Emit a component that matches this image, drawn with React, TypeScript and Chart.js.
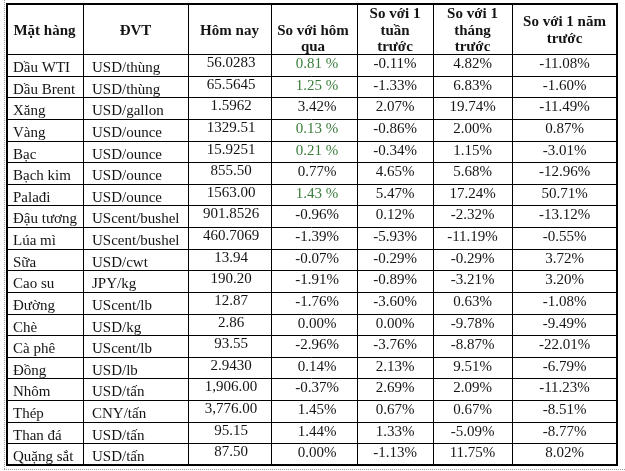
import React, { useEffect, useRef } from "react";
import { Chart, registerables } from "chart.js";
Chart.register(...registerables);

// ---- data ----
const headers: string[][] = [
  ["Mặt hàng"],
  ["ĐVT"],
  ["Hôm nay"],
  ["So với hôm", "qua"],
  ["So với 1", "tuần", "trước"],
  ["So với 1", "tháng", "trước"],
  ["So với 1 năm", "trước"],
];

const commodities = [
  "Dầu WTI", "Dầu Brent", "Xăng", "Vàng", "Bạc", "Bạch kim", "Palađi",
  "Đậu tương", "Lúa mì", "Sữa", "Cao su", "Đường", "Chè", "Cà phê",
  "Đồng", "Nhôm", "Thép", "Than đá", "Quặng sắt",
];

const units = [
  "USD/thùng", "USD/thùng", "USD/gallon", "USD/ounce", "USD/ounce", "USD/ounce",
  "USD/ounce", "UScent/bushel", "UScent/bushel", "USD/cwt", "JPY/kg", "UScent/lb",
  "USD/kg", "UScent/lb", "USD/lb", "USD/tấn", "CNY/tấn", "USD/tấn", "USD/tấn",
];

const today = [
  "56.0283", "65.5645", "1.5962", "1329.51", "15.9251", "855.50", "1563.00",
  "901.8526", "460.7069", "13.94", "190.20", "12.87", "2.86", "93.55",
  "2.9430", "1,906.00", "3,776.00", "95.15", "87.50",
];

const vsYesterday = [
  "0.81 %", "1.25 %", "3.42%", "0.13 %", "0.21 %", "0.77%", "1.43 %",
  "-0.96%", "-1.39%", "-0.07%", "-1.91%", "-1.76%", "0.00%", "-2.96%",
  "0.14%", "-0.37%", "1.45%", "1.44%", "0.00%",
];

const yesterdayGreen = [0, 1, 3, 4, 6];

const vsWeek = [
  "-0.11%", "-1.33%", "2.07%", "-0.86%", "-0.34%", "4.65%", "5.47%",
  "0.12%", "-5.93%", "-0.29%", "-0.89%", "-3.60%", "0.00%", "-3.76%",
  "2.13%", "2.69%", "0.67%", "1.33%", "-1.13%",
];

const vsMonth = [
  "4.82%", "6.83%", "19.74%", "2.00%", "1.15%", "5.68%", "17.24%",
  "-2.32%", "-11.19%", "-0.29%", "-3.21%", "0.63%", "-9.78%", "-8.87%",
  "9.51%", "2.09%", "0.67%", "-5.09%", "11.75%",
];

const vsYear = [
  "-11.08%", "-1.60%", "-11.49%", "0.87%", "-3.01%", "-12.96%", "50.71%",
  "-13.12%", "-0.55%", "3.72%", "3.20%", "-1.08%", "-9.49%", "-22.01%",
  "-6.79%", "-11.23%", "-8.51%", "-8.77%", "8.02%",
];

// ---- layout (not data) ----
const colWidths = [77, 105, 83, 86, 76, 79, 105];
const headerUnits = 51 / 21.63;
const FONT = "'Liberation Serif', 'Times New Roman', serif";
const TEXT = "#141414";
const GREEN = "#3a7d3a";

export default function App() {
  const ref = useRef<HTMLCanvasElement | null>(null);

  useEffect(() => {
    const canvas = ref.current;
    if (!canvas) return;
    const columns = [commodities, units, today, vsYesterday, vsWeek, vsMonth, vsYear];
    const edges: number[] = [0];
    colWidths.forEach((w) => edges.push(edges[edges.length - 1] + w));
    const total = edges[edges.length - 1];
    const nRows = commodities.length;

    const tablePlugin = {
      id: "tablePlugin",
      beforeDraw(chart: any) {
        const ctx = chart.ctx;
        ctx.save();
        ctx.fillStyle = "#ffffff";
        ctx.fillRect(0, 0, chart.width, chart.height);
        ctx.restore();
      },
      afterDraw(chart: any) {
        const ctx = chart.ctx as CanvasRenderingContext2D;
        const xs = chart.scales.x;
        const ys = chart.scales.y;
        const X = (v: number) => xs.getPixelForValue(v);
        const Y = (v: number) => ys.getPixelForValue(v);
        ctx.save();

        // dotted page guides
        ctx.strokeStyle = "#9a9a9a";
        ctx.lineWidth = 1;
        ctx.setLineDash([1, 1]);
        ctx.beginPath();
        ctx.moveTo(4.5, 0);
        ctx.lineTo(4.5, 469);
        ctx.moveTo(4, 469.5);
        ctx.lineTo(chart.width, 469.5);
        ctx.stroke();
        ctx.setLineDash([]);

        // header text
        const top = Y(-headerUnits);
        const hb = Y(0);
        const hc = (top + hb) / 2;
        ctx.fillStyle = TEXT;
        ctx.font = `bold 15px ${FONT}`;
        ctx.textBaseline = "alphabetic";
        ctx.textAlign = "center";
        headers.forEach((lines, c) => {
          const cx = (X(edges[c]) + X(edges[c + 1])) / 2;
          const n = lines.length;
          lines.forEach((ln, i) => {
            let by: number;
            if (c === 3) by = hb - 3 - (n - 1 - i) * 16;
            else by = hc + 6 + (i - (n - 1) / 2) * 16.2;
            ctx.fillText(ln, cx - (c === 3 ? 1 : 0), by);
          });
        });

        // body text
        ctx.font = `15px ${FONT}`;
        for (let r = 0; r < nRows; r++) {
          const t = Y(r);
          columns.forEach((col, c) => {
            const txt = col[r];
            const l = X(edges[c]);
            const rr = X(edges[c + 1]);
            const cx = (l + rr) / 2;
            ctx.fillStyle = c === 3 && yesterdayGreen.includes(r) ? GREEN : TEXT;
            if (c === 0) {
              ctx.textAlign = "left";
              ctx.fillText(txt, l + 7, t + 18);
            } else if (c === 1) {
              ctx.textAlign = "left";
              ctx.fillText(txt, l + 9, t + 18);
            } else if (c === 2) {
              ctx.textAlign = "center";
              ctx.fillText(txt, cx + 1.5, t + 13);
            } else {
              ctx.textAlign = "center";
              ctx.fillText(txt, cx + (c === 3 ? 3 : 0), t + 14);
            }
          });
        }

        // grid lines
        const bottom = Y(nRows);
        const left = X(0);
        const right = X(total);
        ctx.strokeStyle = "#000000";
        ctx.lineWidth = 1;
        ctx.beginPath();
        for (let c = 1; c < edges.length - 1; c++) {
          const px = Math.round(X(edges[c])) + 0.5;
          ctx.moveTo(px, top);
          ctx.lineTo(px, bottom);
        }
        for (let r = 0; r < nRows; r++) {
          const py = Math.round(Y(r)) + 0.5;
          ctx.moveTo(left, py);
          ctx.lineTo(right, py);
        }
        ctx.stroke();
        ctx.lineWidth = 2;
        ctx.strokeRect(Math.round(left) + 1, Math.round(top) + 1, Math.round(right - left) - 1, Math.round(bottom - top) - 1);
        ctx.restore();
      },
    };

    const chart = new Chart(canvas, {
      type: "scatter",
      data: { datasets: [] },
      options: {
        responsive: false,
        animation: false,
        devicePixelRatio: 1,
        layout: { padding: { left: 6, top: 3, right: 8, bottom: 6 } },
        plugins: { legend: { display: false }, tooltip: { enabled: false } },
        scales: {
          x: { type: "linear", display: false, min: 0, max: total },
          y: { type: "linear", display: false, reverse: true, min: -headerUnits, max: nRows },
        },
      },
      plugins: [tablePlugin],
    } as any);
    return () => chart.destroy();
  }, []);

  return (
    <div style={{ position: "absolute", left: 0, top: 0, width: 625, height: 471, background: "#fff" }}>
      <canvas ref={ref} width={625} height={471} style={{ display: "block", width: 625, height: 471 }} />
    </div>
  );
}
